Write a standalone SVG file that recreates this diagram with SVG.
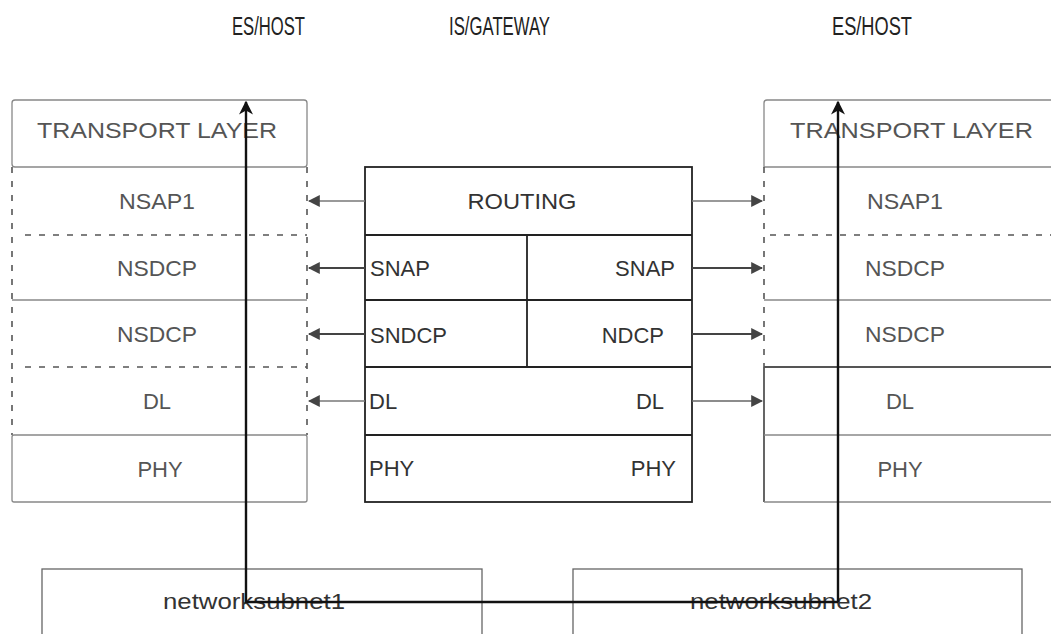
<svg xmlns="http://www.w3.org/2000/svg" width="1051" height="634" viewBox="0 0 1051 634">
<style>
.t{font-family:"Liberation Sans",Arial,sans-serif;font-size:22px;fill:#333}
.l{fill:#555}
.h{font-family:"Liberation Sans",Arial,sans-serif;font-size:25px;fill:#222}
.g{stroke:#888;stroke-width:1.3;fill:none}
.gd{stroke:#555;stroke-width:1.6;fill:none;stroke-dasharray:6 8}
.k{stroke:#222;stroke-width:1.8;fill:none}
.c{stroke:#444;stroke-width:1.8;fill:none}
.v{stroke:#111;stroke-width:2.4;fill:none}
</style>
<defs>
<marker id="ah" viewBox="0 0 10 10" refX="9" refY="5" markerWidth="12" markerHeight="12" markerUnits="userSpaceOnUse" orient="auto">
<path d="M0,0 L10,5 L0,10 Z" fill="#444"/>
</marker>
<marker id="up" viewBox="0 0 10 10" refX="9" refY="5" markerWidth="14" markerHeight="14" markerUnits="userSpaceOnUse" orient="auto">
<path d="M0,0 L10,5 L0,10 L3,5 Z" fill="#111"/>
</marker>
</defs>
<rect width="1051" height="634" fill="#fff"/>

<g id="titles">
<text class="h" x="232" y="35" textLength="73" lengthAdjust="spacingAndGlyphs">ES/HOST</text>
<text class="h" x="449" y="35" textLength="101" lengthAdjust="spacingAndGlyphs">IS/GATEWAY</text>
<text class="h" x="832" y="35" textLength="80" lengthAdjust="spacingAndGlyphs">ES/HOST</text>
</g>

<g id="left-host">
<rect class="g" x="12" y="100" width="295" height="67" rx="3"/>
<text class="t l" x="37" y="138" textLength="240" lengthAdjust="spacingAndGlyphs">TRANSPORT LAYER</text>
<line class="gd" x1="12" y1="167" x2="12" y2="435"/>
<line class="gd" x1="307" y1="167" x2="307" y2="435"/>
<line class="gd" x1="25" y1="235" x2="307" y2="235"/>
<text class="t l" x="157" y="209" text-anchor="middle" textLength="76" lengthAdjust="spacingAndGlyphs">NSAP1</text>
<line class="g" x1="12" y1="300" x2="307" y2="300"/>
<text class="t l" x="157" y="276" text-anchor="middle" textLength="80" lengthAdjust="spacingAndGlyphs">NSDCP</text>
<line class="gd" x1="25" y1="367" x2="307" y2="367"/>
<text class="t l" x="157" y="342" text-anchor="middle" textLength="80" lengthAdjust="spacingAndGlyphs">NSDCP</text>
<text class="t l" x="157" y="409" text-anchor="middle">DL</text>
<rect class="g" x="12" y="435" width="295" height="67" rx="2"/>
<text class="t l" x="160" y="477" text-anchor="middle">PHY</text>
</g>

<g id="gateway">
<rect class="k" x="365" y="167" width="327" height="335"/>
<line class="k" x1="365" y1="235" x2="692" y2="235"/>
<line class="k" x1="365" y1="300" x2="692" y2="300"/>
<line class="k" x1="365" y1="367" x2="692" y2="367"/>
<line class="k" x1="365" y1="435" x2="692" y2="435"/>
<line class="k" x1="527" y1="235" x2="527" y2="367"/>
<text class="t" x="522" y="209" text-anchor="middle" textLength="109" lengthAdjust="spacingAndGlyphs">ROUTING</text>
<text class="t" x="370" y="276">SNAP</text>
<text class="t" x="675" y="276" text-anchor="end">SNAP</text>
<text class="t" x="370" y="343">SNDCP</text>
<text class="t" x="664" y="343" text-anchor="end">NDCP</text>
<text class="t" x="369" y="409">DL</text>
<text class="t" x="664" y="409" text-anchor="end">DL</text>
<text class="t" x="369" y="476">PHY</text>
<text class="t" x="676" y="476" text-anchor="end">PHY</text>
</g>

<g id="right-host">
<path class="g" d="M1051,100 H767 Q764,100 764,103 V167 H1051"/>
<text class="t l" x="790" y="138" textLength="243" lengthAdjust="spacingAndGlyphs">TRANSPORT LAYER</text>
<line class="gd" x1="764" y1="167" x2="764" y2="367"/>
<line class="gd" x1="770" y1="235" x2="1051" y2="235"/>
<text class="t l" x="905" y="209" text-anchor="middle" textLength="76" lengthAdjust="spacingAndGlyphs">NSAP1</text>
<line class="g" x1="764" y1="300" x2="1051" y2="300"/>
<text class="t l" x="905" y="276" text-anchor="middle" textLength="80" lengthAdjust="spacingAndGlyphs">NSDCP</text>
<line class="k" x1="764" y1="367" x2="1051" y2="367" style="stroke:#555"/>
<text class="t l" x="905" y="342" text-anchor="middle" textLength="80" lengthAdjust="spacingAndGlyphs">NSDCP</text>
<line class="k" x1="764" y1="367" x2="764" y2="502" style="stroke:#555"/>
<text class="t l" x="900" y="409" text-anchor="middle">DL</text>
<line class="g" x1="764" y1="435" x2="1051" y2="435"/>
<line class="g" x1="764" y1="502" x2="1051" y2="502"/>
<text class="t l" x="900" y="477" text-anchor="middle">PHY</text>
</g>

<g id="subnet1">
<rect class="g" x="42" y="569" width="440" height="75" style="stroke:#666"/>
<text class="t" x="163" y="609" textLength="182" lengthAdjust="spacingAndGlyphs">networksubnet1</text>
</g>
<g id="subnet2">
<rect class="g" x="573" y="569" width="449" height="75" style="stroke:#666"/>
<text class="t" x="690" y="609" textLength="182" lengthAdjust="spacingAndGlyphs">networksubnet2</text>
</g>

<g id="connectors">
<line class="c" x1="365" y1="201" x2="309" y2="201" marker-end="url(#ah)" style="stroke:#777;stroke-width:1.4"/>
<line class="c" x1="365" y1="268" x2="309" y2="268" marker-end="url(#ah)"/>
<line class="c" x1="365" y1="334" x2="309" y2="334" marker-end="url(#ah)"/>
<line class="c" x1="365" y1="401" x2="309" y2="401" marker-end="url(#ah)" style="stroke:#777;stroke-width:1.4"/>
<line class="c" x1="692" y1="201" x2="762" y2="201" marker-end="url(#ah)" style="stroke:#777;stroke-width:1.4"/>
<line class="c" x1="692" y1="268" x2="762" y2="268" marker-end="url(#ah)"/>
<line class="c" x1="692" y1="334" x2="762" y2="334" marker-end="url(#ah)"/>
<line class="c" x1="692" y1="401" x2="762" y2="401" marker-end="url(#ah)" style="stroke:#666;stroke-width:1.4"/>
<path class="v" d="M838,602 H246 V102" marker-end="url(#up)"/>
<line class="v" x1="838" y1="602" x2="838" y2="102" marker-end="url(#up)"/>
</g>
</svg>
